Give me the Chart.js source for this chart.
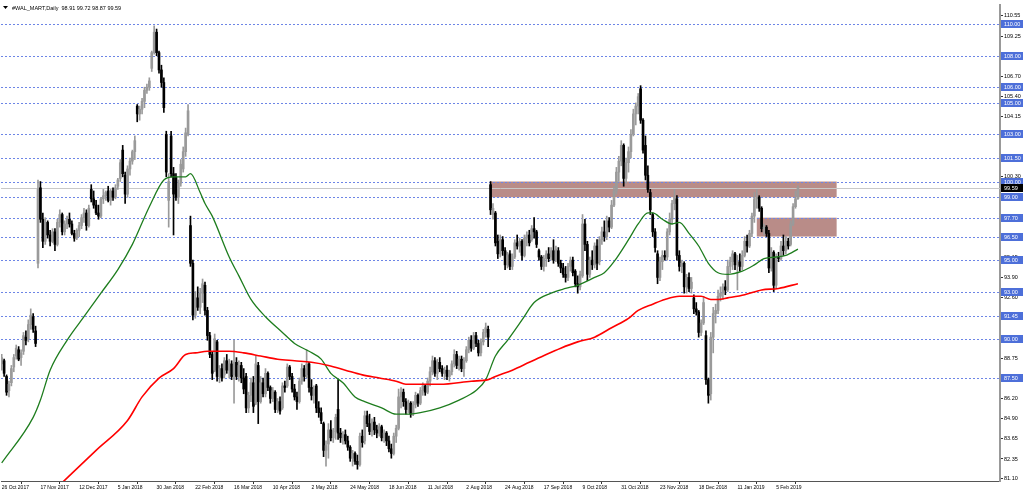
<!DOCTYPE html>
<html lang="en">
<head>
<meta charset="UTF-8" />
<title>WAL_MART Daily</title>
<script src="https://cdn.jsdelivr.net/npm/chart.js"></script>
<style>
  body { margin: 0; background: #fff; }
  canvas { display: block; }
</style>
</head>
<body>
<canvas id="priceChart" width="1024" height="494"></canvas>
<script>
// daily bars, one value per trading day starting 26 Oct 2017
const opens = [
  88.4, 88.6, 87.6, 86.7, 87.2, 88.2, 88.9, 89.3, 88.8, 89.2,
  90.1, 90.0, 90.9, 91.4, 90.5, 94.8, 99.6, 97.6, 96.2, 97.4,
  96.6, 96.2, 96.8, 96.0, 97.4, 97.9, 96.8, 97.3, 97.6, 97.3,
  96.7, 96.4, 96.9, 97.2, 97.7, 98.0, 97.2, 99.5, 98.9, 98.5,
  98.0, 97.8, 98.9, 99.1, 99.4, 98.8, 99.4, 99.0, 99.7, 100.2,
  102.0, 100.4, 99.2, 100.8, 101.3, 101.9, 104.8, 104.3, 104.6, 105.1,
  105.8, 106.0, 107.2, 108.2, 109.5, 108.2, 107.1, 106.3, 103.0, 98.8,
  102.9, 100.5, 100.3, 99.0, 99.9, 100.8, 101.9, 103.0, 97.2, 94.8,
  91.5, 92.6, 92.0, 92.9, 93.4, 91.8, 90.2, 89.0, 88.0, 89.8,
  87.6, 88.1, 87.7, 88.6, 88.0, 88.4, 87.7, 88.5, 87.6, 88.3,
  87.5, 87.6, 85.6, 86.4, 87.2, 85.9, 88.3, 86.0, 87.2, 86.5,
  87.8, 86.9, 86.2, 86.6, 85.5, 86.0, 85.6, 87.0, 87.0, 88.2,
  87.6, 86.8, 86.3, 86.0, 87.3, 88.1, 87.7, 88.4, 86.9, 86.4,
  87.0, 85.6, 85.3, 84.6, 82.9, 83.3, 84.2, 83.7, 84.1, 85.5,
  84.0, 83.7, 83.9, 83.5, 83.1, 82.4, 82.7, 82.2, 82.0, 83.8,
  83.5, 85.1, 84.6, 84.1, 84.7, 84.2, 84.0, 84.4, 83.7, 84.0,
  83.5, 83.0, 82.7, 83.8, 84.3, 86.3, 86.6, 86.0, 85.5, 85.9,
  85.2, 85.8, 86.4, 85.9, 86.7, 87.0, 86.6, 87.3, 87.9, 88.6,
  87.8, 88.5, 88.1, 87.8, 88.0, 87.6, 87.9, 88.4, 89.0, 88.3,
  88.7, 88.1, 88.6, 89.3, 89.9, 89.4, 90.2, 89.7, 89.1, 89.8,
  90.4, 90.6, 99.8, 97.9, 98.0, 96.2, 95.4, 96.3, 95.6, 94.7,
  95.4, 94.6, 95.2, 96.1, 95.9, 96.2, 95.3, 96.4, 96.6, 96.3,
  97.0, 96.8, 95.6, 95.2, 94.6, 95.1, 95.4, 95.2, 95.6, 95.0,
  95.6, 94.8, 94.5, 94.1, 93.9, 94.6, 95.0, 94.3, 93.5, 93.3,
  94.0, 97.3, 96.0, 94.1, 95.0, 94.7, 95.9, 94.9, 96.3, 96.8,
  96.5, 97.5, 97.1, 98.5, 99.4, 100.6, 101.3, 102.3, 100.2, 101.2,
  101.9, 103.0, 104.3, 104.8, 105.9, 103.9, 102.3, 100.4, 99.3, 97.9,
  96.8, 95.4, 93.9, 94.9, 95.3, 95.2, 96.8, 97.6, 98.6, 98.9,
  95.3, 94.6, 94.8, 93.3, 93.9, 93.2, 92.6, 91.9, 91.7, 90.4,
  91.0, 90.2, 87.4, 86.5, 90.1, 91.6, 91.8, 92.7, 92.9, 93.3,
  93.1, 94.6, 94.9, 95.4, 94.7, 94.9, 94.6, 95.3, 96.2, 95.9,
  96.7, 97.8, 98.9, 99.0, 98.3, 97.0, 97.1, 96.7, 94.5, 95.5,
  93.4, 95.2, 95.1, 95.9, 95.6, 96.2, 96.0, 97.3, 98.4, 98.91
];
const highs = [
  89.0, 88.7, 87.7, 87.3, 88.3, 89.0, 89.6, 89.5, 89.3, 90.4,
  90.5, 91.2, 91.9, 91.6, 90.8, 100.1, 100.0, 98.0, 97.7, 97.5,
  96.9, 97.0, 97.0, 97.6, 98.2, 98.0, 97.5, 97.8, 98.0, 97.5,
  96.9, 97.0, 97.4, 97.9, 98.3, 98.2, 98.5, 99.8, 99.4, 98.8,
  98.5, 99.0, 99.5, 99.4, 99.7, 99.5, 99.6, 99.8, 100.2, 101.4,
  102.3, 100.6, 101.0, 101.5, 102.0, 102.9, 104.9, 104.8, 105.3, 106.0,
  106.2, 106.6, 108.3, 109.9, 109.7, 108.3, 107.4, 106.6, 103.2, 100.5,
  103.2, 100.9, 100.5, 100.1, 101.4, 102.2, 103.4, 104.9, 97.8, 95.0,
  93.0, 93.3, 93.2, 93.8, 93.6, 92.0, 90.4, 89.2, 90.3, 89.9,
  88.3, 88.4, 88.8, 89.0, 88.7, 88.6, 89.9, 88.8, 88.6, 88.5,
  88.1, 87.8, 86.6, 87.5, 87.6, 88.9, 88.5, 87.6, 87.5, 88.1,
  87.9, 87.0, 86.9, 86.7, 86.2, 86.3, 87.2, 87.3, 88.4, 88.3,
  87.8, 87.1, 86.6, 87.5, 88.4, 88.3, 89.3, 88.5, 87.4, 87.0,
  87.1, 86.0, 85.6, 84.7, 83.5, 84.6, 84.8, 84.3, 85.2, 87.4,
  84.3, 84.1, 84.2, 83.8, 83.2, 82.9, 82.8, 82.6, 84.0, 84.2,
  85.4, 85.4, 85.2, 84.9, 85.0, 84.5, 84.6, 84.5, 84.2, 84.1,
  83.8, 83.3, 84.0, 84.5, 86.8, 86.9, 86.8, 86.2, 86.1, 86.0,
  86.0, 86.6, 86.5, 86.9, 87.2, 87.1, 87.5, 88.2, 88.9, 88.8,
  88.7, 88.8, 88.3, 88.2, 88.3, 88.0, 88.6, 89.3, 89.2, 88.9,
  88.9, 88.8, 89.5, 90.1, 90.2, 90.4, 90.4, 89.9, 90.0, 90.6,
  91.0, 90.8, 100.0, 98.6, 98.1, 96.6, 96.6, 96.5, 95.8, 95.5,
  95.6, 95.4, 96.3, 96.6, 96.4, 96.3, 96.6, 96.8, 96.9, 97.2,
  97.7, 96.9, 95.7, 95.3, 95.3, 95.6, 95.8, 95.8, 96.3, 95.9,
  95.8, 95.0, 94.8, 94.6, 94.8, 95.2, 95.2, 94.4, 94.0, 94.3,
  97.9, 97.6, 96.2, 95.2, 95.6, 96.1, 96.3, 96.5, 97.1, 97.5,
  97.8, 97.7, 98.8, 99.7, 100.9, 101.6, 102.6, 102.4, 101.5, 102.2,
  103.3, 104.6, 105.0, 105.6, 106.1, 104.0, 102.9, 101.0, 99.5, 98.0,
  97.0, 95.6, 95.2, 95.6, 95.6, 97.0, 98.0, 98.8, 99.5, 99.1,
  95.6, 95.0, 94.9, 94.1, 94.2, 93.9, 92.8, 92.3, 91.8, 91.2,
  92.7, 90.5, 87.5, 90.4, 92.0, 92.2, 93.1, 93.3, 93.5, 93.7,
  95.0, 95.2, 95.6, 95.5, 95.3, 95.4, 95.6, 96.5, 96.6, 96.9,
  98.0, 99.3, 99.5, 99.1, 98.4, 97.3, 97.2, 96.9, 95.8, 95.6,
  95.4, 95.5, 96.2, 96.6, 96.5, 96.4, 97.5, 98.6, 99.4, 99.72
];
const lows = [
  88.0, 87.6, 86.4, 86.3, 87.0, 87.9, 88.7, 88.6, 88.3, 89.0,
  89.6, 89.8, 90.6, 90.4, 89.5, 94.5, 97.4, 95.8, 96.0, 96.4,
  95.9, 96.1, 95.6, 95.9, 97.1, 96.6, 96.6, 97.0, 97.1, 96.6,
  96.2, 96.3, 96.5, 97.0, 97.4, 96.9, 97.1, 98.7, 98.3, 97.9,
  97.6, 97.7, 98.6, 98.8, 98.7, 98.5, 98.8, 98.9, 99.5, 100.0,
  100.3, 98.6, 99.0, 100.4, 101.1, 101.4, 103.8, 103.9, 104.3, 104.7,
  105.6, 105.8, 107.0, 108.1, 108.0, 106.9, 106.0, 104.4, 100.3, 97.1,
  100.3, 96.6, 98.8, 98.6, 99.7, 100.6, 101.6, 102.9, 94.6, 91.2,
  91.3, 91.8, 91.6, 92.3, 91.5, 89.9, 88.8, 87.4, 87.9, 87.3,
  87.2, 87.3, 87.5, 87.8, 87.5, 87.4, 85.9, 87.4, 87.3, 87.2,
  86.5, 85.3, 85.3, 86.0, 85.3, 85.8, 84.6, 85.9, 86.3, 86.3,
  86.7, 85.9, 86.0, 85.3, 85.3, 85.2, 85.5, 86.6, 86.9, 87.4,
  86.6, 86.1, 85.5, 85.9, 87.1, 87.3, 87.5, 86.6, 86.1, 85.9,
  85.3, 85.0, 84.6, 82.5, 81.9, 82.4, 83.5, 83.4, 83.6, 83.6,
  83.4, 83.3, 83.3, 82.9, 82.2, 81.9, 82.0, 81.7, 81.9, 83.1,
  83.3, 84.4, 83.9, 83.8, 83.9, 83.7, 83.8, 83.5, 83.4, 83.2,
  82.8, 82.4, 82.6, 83.4, 84.2, 85.6, 85.7, 85.2, 85.3, 85.0,
  85.1, 85.6, 85.7, 85.8, 86.4, 86.4, 86.5, 87.0, 87.7, 87.6,
  87.4, 87.9, 87.6, 87.4, 87.4, 87.3, 87.7, 88.2, 88.1, 88.0,
  87.9, 87.6, 88.5, 89.1, 89.2, 89.3, 89.5, 88.9, 88.9, 89.6,
  90.1, 89.5, 97.9, 97.6, 95.9, 95.1, 95.2, 95.3, 94.4, 94.5,
  94.4, 94.4, 95.1, 95.7, 95.5, 95.0, 95.2, 95.9, 95.9, 96.2,
  96.4, 95.8, 95.0, 94.4, 94.3, 94.6, 94.9, 95.0, 94.8, 94.9,
  94.6, 94.2, 93.9, 93.6, 93.7, 94.3, 94.0, 93.3, 92.9, 93.1,
  93.9, 95.6, 93.7, 93.9, 94.4, 94.5, 94.4, 94.7, 96.0, 96.2,
  96.3, 96.8, 97.0, 98.4, 99.2, 100.0, 101.0, 99.7, 99.9, 100.6,
  101.5, 102.9, 103.6, 104.3, 103.7, 101.8, 100.1, 99.3, 97.9, 96.5,
  95.5, 93.5, 93.7, 94.4, 95.0, 95.0, 96.6, 97.3, 98.2, 95.0,
  94.3, 94.2, 92.9, 92.9, 93.0, 92.9, 91.6, 91.5, 90.1, 90.2,
  90.9, 87.1, 85.9, 86.1, 89.1, 91.0, 91.6, 92.4, 92.5, 92.8,
  93.0, 94.2, 94.4, 94.4, 93.1, 94.3, 94.4, 95.2, 95.5, 95.8,
  96.5, 97.4, 98.3, 98.1, 96.8, 96.6, 96.5, 94.2, 94.3, 93.0,
  93.2, 94.9, 95.0, 95.3, 95.4, 95.7, 95.9, 97.2, 98.3, 98.87
];
const closes = [
  88.8, 87.8, 86.6, 87.1, 88.1, 88.8, 89.4, 88.7, 89.1, 90.2,
  89.9, 90.9, 91.5, 90.6, 89.7, 99.5, 97.6, 96.2, 97.4, 96.6,
  96.2, 96.8, 96.0, 97.4, 97.9, 96.8, 97.3, 97.6, 97.3, 96.7,
  96.4, 96.9, 97.2, 97.7, 98.0, 97.2, 98.3, 98.9, 98.5, 98.0,
  97.8, 98.9, 99.1, 99.3, 98.8, 99.4, 99.0, 99.6, 100.1, 101.2,
  100.5, 99.2, 100.8, 101.3, 101.9, 102.6, 104.3, 104.6, 105.1, 105.8,
  106.0, 106.4, 108.2, 109.5, 108.2, 107.1, 106.3, 104.7, 100.6, 100.0,
  100.5, 99.2, 99.0, 99.9, 101.1, 101.9, 103.1, 104.5, 94.8, 91.5,
  92.6, 92.0, 92.9, 93.5, 91.8, 90.2, 89.0, 87.8, 90.0, 87.6,
  88.1, 87.5, 88.6, 88.0, 88.4, 87.6, 88.5, 87.6, 88.3, 87.5,
  86.8, 85.6, 86.4, 87.2, 85.7, 88.4, 86.0, 87.2, 86.5, 87.8,
  86.9, 86.2, 86.7, 85.5, 86.0, 85.4, 87.0, 86.9, 88.2, 87.6,
  86.8, 86.3, 86.0, 87.3, 88.1, 87.6, 88.4, 86.9, 86.4, 86.8,
  85.6, 85.3, 84.8, 82.9, 83.2, 84.2, 83.7, 84.1, 85.0, 84.0,
  83.7, 83.9, 83.5, 83.1, 82.4, 82.7, 82.2, 82.0, 83.8, 83.4,
  85.1, 84.6, 84.1, 84.7, 84.2, 84.0, 84.4, 83.7, 84.0, 83.5,
  83.0, 82.7, 83.8, 84.3, 86.3, 86.6, 86.0, 85.5, 85.9, 85.2,
  85.8, 86.4, 85.9, 86.7, 87.0, 86.6, 87.3, 87.9, 88.6, 87.8,
  88.5, 88.1, 87.8, 88.0, 87.6, 87.9, 88.4, 89.0, 88.3, 88.7,
  88.1, 88.6, 89.3, 89.9, 89.4, 90.2, 89.7, 89.1, 89.8, 90.4,
  90.7, 90.1, 98.2, 98.3, 96.1, 95.4, 96.3, 95.6, 94.7, 95.3,
  94.6, 95.2, 96.1, 95.9, 96.2, 95.3, 96.4, 96.6, 96.1, 97.0,
  96.8, 96.0, 95.2, 94.6, 95.1, 95.4, 95.1, 95.6, 95.0, 95.7,
  94.8, 94.5, 94.1, 93.9, 94.6, 95.0, 94.2, 93.5, 93.3, 94.1,
  97.3, 96.0, 94.1, 95.0, 94.7, 95.9, 94.8, 96.3, 96.8, 96.5,
  97.5, 97.1, 98.5, 99.4, 100.6, 101.3, 102.3, 100.2, 101.2, 101.9,
  103.0, 104.3, 104.8, 105.4, 103.9, 102.0, 100.4, 99.5, 98.2, 96.8,
  95.8, 93.9, 94.9, 95.3, 95.2, 96.8, 97.6, 98.6, 99.0, 95.3,
  94.6, 94.8, 93.3, 93.9, 93.2, 93.6, 91.9, 91.7, 90.4, 91.0,
  92.3, 87.4, 86.4, 90.1, 91.6, 91.8, 92.7, 92.9, 93.3, 93.1,
  94.6, 94.9, 95.4, 94.7, 94.9, 94.6, 95.3, 96.2, 95.9, 96.7,
  97.8, 98.9, 99.0, 98.3, 97.0, 97.1, 96.7, 94.5, 95.5, 93.4,
  95.2, 95.1, 95.9, 95.6, 96.2, 95.9, 97.3, 98.4, 98.9, 99.59
];

// date shown under every 16th bar
const dateLabels = [
  "26 Oct 2017", "17 Nov 2017", "12 Dec 2017", "5 Jan 2018", "30 Jan 2018",
  "22 Feb 2018", "16 Mar 2018", "10 Apr 2018", "2 May 2018", "24 May 2018",
  "18 Jun 2018", "11 Jul 2018", "2 Aug 2018", "24 Aug 2018", "17 Sep 2018",
  "9 Oct 2018", "31 Oct 2018", "23 Nov 2018", "18 Dec 2018", "11 Jan 2019",
  "5 Feb 2019"
];
const labelEvery = 16;

const priceTicks = [
  110.55, 109.25, 107.95, 106.70, 105.40, 104.15, 102.85, 101.55, 100.30, 99.00,
  97.70, 96.45, 95.15, 93.90, 92.60, 91.30, 90.05, 88.75, 87.50, 86.20,
  84.90, 83.65, 82.35, 81.10
];

// horizontal levels drawn by hand on the chart
const levels = [110, 108, 106, 105, 103, 101.5, 100, 99, 97.7, 96.5, 95, 93, 91.45, 90, 87.5];
const lastPrice = 99.59;

// supply zones: first bar, last bar, bottom, top
const zoneStart = [202, 312];
const zoneEnd = [345, 345];
const zoneLow = [99.0, 96.5];
const zoneHigh = [100.0, 97.7];

// moving averages (bar, value)
const greenBars = [0, 13, 16, 20, 27, 34, 41, 48, 54, 61, 67, 71, 76, 78, 82, 84, 87, 94, 98,
  103, 109, 116, 121, 127, 132, 136, 141, 146, 150, 157, 163, 167, 173, 181, 189, 196, 200, 204, 209,
  215, 220, 227, 233, 238, 245, 249, 253, 259, 263, 267, 269, 273, 277, 280, 284, 288, 292, 296, 300,
  306, 311, 315, 320, 324, 329];
const greenValues = [82.1, 85.0, 86.1, 88.0, 89.9, 91.4, 92.9, 94.4, 96.0, 98.4, 100.1, 100.3, 100.3, 100.5, 99.3, 98.6, 97.8, 95.2, 94.0,
  92.5, 91.4, 90.4, 89.7, 89.2, 88.7, 87.8, 87.2, 86.3, 86.0, 85.6, 85.2, 85.2, 85.3, 85.6, 86.1, 86.7, 87.4, 88.9, 89.9,
  91.2, 92.3, 92.9, 93.2, 93.4, 93.9, 94.2, 94.9, 96.3, 97.3, 98.0, 98.0, 97.6, 97.3, 97.4, 96.7, 95.9, 94.8, 94.2, 94.1,
  94.3, 94.7, 95.1, 95.2, 95.3, 95.7];
const redBars = [24, 39, 52, 58, 65, 71, 76, 80, 85, 94, 100, 107, 114, 121, 128, 135, 142, 149, 156, 163,
  167, 181, 194, 201, 204, 211, 218, 225, 231, 238, 245, 252, 259, 263, 269, 274, 280, 285, 289, 293,
  296, 300, 307, 314, 321, 329];
const redValues = [80.7, 82.9, 84.8, 86.3, 87.5, 88.1, 89.0, 89.1, 89.2, 89.2, 89.1, 88.9, 88.7, 88.6, 88.5, 88.3, 88.0, 87.7, 87.5, 87.3,
  87.1, 87.1, 87.3, 87.4, 87.6, 88.0, 88.5, 89.0, 89.4, 89.8, 90.1, 90.7, 91.3, 91.8, 92.2, 92.5, 92.7, 92.7, 92.7, 92.5,
  92.5, 92.6, 92.8, 93.1, 93.2, 93.5];

const FONT = "'Liberation Sans', Arial, sans-serif";
const BULL = "#9a9a9a";
const BEAR = "#000000";

const wickData = closes.map((c, i) => ({ x: i, y: [lows[i], highs[i]] }));
const bodyData = closes.map((c, i) => ({ x: i, y: [opens[i], c] }));
const candleColor = (ctx) => {
  const i = ctx.dataIndex;
  return closes[i] >= opens[i] ? BULL : BEAR;
};

// zones, levels, axis badges and title
const overlay = {
  id: "overlay",
  beforeDatasetsDraw(chart) {
    const { ctx, chartArea: a, scales: { x, y } } = chart;
    ctx.save();
    ctx.beginPath();
    ctx.rect(a.left, a.top, a.right - a.left, a.bottom - a.top);
    ctx.clip();

    ctx.fillStyle = "#b98c88";
    zoneStart.forEach((s, k) => {
      const x0 = x.getPixelForValue(s);
      const x1 = x.getPixelForValue(zoneEnd[k]);
      const y0 = y.getPixelForValue(zoneHigh[k]);
      const y1 = y.getPixelForValue(zoneLow[k]);
      ctx.fillRect(x0, y0, x1 - x0, y1 - y0);
    });

    const py = Math.round(y.getPixelForValue(lastPrice)) + 0.5;
    ctx.strokeStyle = "#c8c8c8";
    ctx.lineWidth = 1;
    ctx.beginPath();
    ctx.moveTo(a.left, py);
    ctx.lineTo(a.right, py);
    ctx.stroke();

    ctx.setLineDash([2, 2]);
    ctx.strokeStyle = "#6d85e6";
    levels.forEach((v) => {
      const ly = Math.round(y.getPixelForValue(v)) + 0.5;
      ctx.beginPath();
      ctx.moveTo(a.left, ly);
      ctx.lineTo(a.right, ly);
      ctx.stroke();
    });
    ctx.restore();
  },
  afterDraw(chart) {
    const { ctx, chartArea: a, scales: { y } } = chart;
    ctx.save();
    ctx.font = "5.5px " + FONT;
    ctx.textBaseline = "middle";
    const badge = (v, bg) => {
      const by = Math.round(y.getPixelForValue(v));
      ctx.fillStyle = bg;
      ctx.fillRect(a.right + 1, by - 4, 22, 8);
      ctx.fillStyle = "#ffffff";
      ctx.fillText(v.toFixed(2), a.right + 4, by + 0.5);
    };
    levels.forEach((v) => badge(v, "#4d6fd9"));
    badge(lastPrice, "#000000");

    // chart caption
    ctx.fillStyle = "#000";
    ctx.beginPath();
    ctx.moveTo(3, 6);
    ctx.lineTo(8, 6);
    ctx.lineTo(5.5, 9);
    ctx.closePath();
    ctx.fill();
    ctx.fillText("#WAL_MART,Daily  98.91 99.72 98.87 99.59", 12, 8);
    ctx.restore();
  }
};

new Chart(document.getElementById("priceChart"), {
  type: "bar",
  data: {
    datasets: [
      {
        type: "line",
        data: redBars.map((b, k) => ({ x: b, y: redValues[k] })),
        borderColor: "#ff0000",
        borderWidth: 1.6,
        pointRadius: 0,
        cubicInterpolationMode: "monotone",
        order: 0
      },
      {
        type: "line",
        data: greenBars.map((b, k) => ({ x: b, y: greenValues[k] })),
        borderColor: "#1e7d1e",
        borderWidth: 1.3,
        pointRadius: 0,
        cubicInterpolationMode: "monotone",
        order: 0
      },
      {
        data: bodyData,
        backgroundColor: candleColor,
        barThickness: 2,
        minBarLength: 1,
        grouped: false,
        order: 1
      },
      {
        data: wickData,
        backgroundColor: candleColor,
        barThickness: 1,
        grouped: false,
        order: 2
      }
    ]
  },
  options: {
    responsive: false,
    animation: false,
    devicePixelRatio: 1,
    layout: { padding: { left: 1, top: 5, right: 0, bottom: 0 } },
    plugins: { legend: { display: false }, tooltip: { enabled: false } },
    scales: {
      x: {
        type: "linear",
        min: -0.29,
        max: 412.5,
        offset: false,
        afterBuildTicks: (s) => {
          s.ticks = dateLabels.map((_, k) => ({ value: k * labelEvery }));
        },
        afterFit: (s) => { s.height = 13; },
        ticks: {
          autoSkip: false,
          maxRotation: 0,
          minRotation: 0,
          align: "start",
          padding: 1,
          color: "#000",
          font: { family: FONT, size: 5 },
          callback: (v) => dateLabels[Math.round(v / labelEvery)]
        },
        grid: { drawOnChartArea: false, tickLength: 3, tickColor: "#333" },
        border: { color: "#555", width: 1 }
      },
      y: {
        position: "right",
        min: 80.95,
        max: 111.23,
        afterBuildTicks: (s) => {
          s.ticks = priceTicks.map((v) => ({ value: v }));
        },
        afterFit: (s) => { s.width = 24; },
        ticks: {
          padding: 1,
          color: "#000",
          font: { family: FONT, size: 5.5 },
          callback: (v) => v.toFixed(2)
        },
        grid: { drawOnChartArea: false, tickLength: 3, tickColor: "#333" },
        border: { color: "#999", width: 2 }
      }
    }
  },
  plugins: [overlay]
});
</script>
</body>
</html>
